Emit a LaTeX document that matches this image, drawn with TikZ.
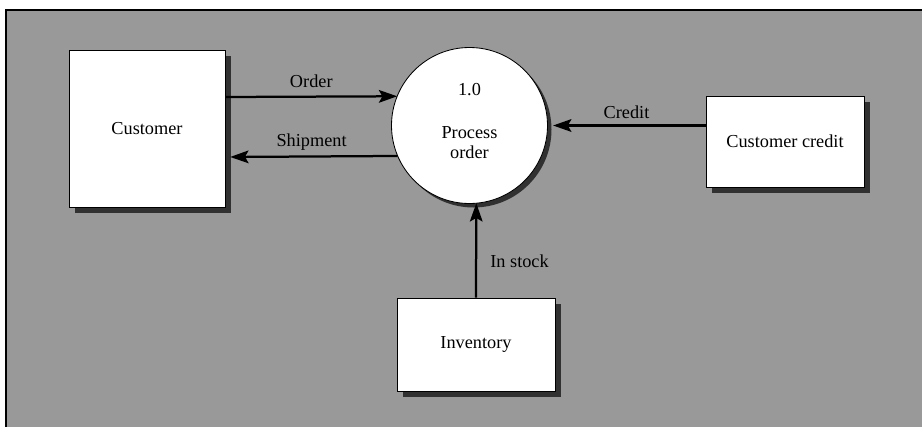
\documentclass[tikz,border=0pt]{standalone}
\usepackage{fontspec}
\setmainfont{Liberation Serif}
\usetikzlibrary{shapes,arrows.meta,positioning,calc,shadows}
\tikzstyle{entity} = [draw, fill=white, rectangle, line width=0.6pt, drop shadow={shadow xshift=0.14cm, shadow yshift=-0.14cm, fill=black!85, opacity=0.9}]
\tikzstyle{process} = [draw, fill=white, circle, line width=0.6pt, minimum size=3.9cm, inner sep=0pt, outer sep=0pt, align=center, text depth=6pt, drop shadow={shadow xshift=0.1cm, shadow yshift=-0.1cm, fill=black!85, opacity=0.9}]
\tikzstyle{flow} = [->, line width=1.6pt]

\begin{document}
\begin{tikzpicture}[auto, node distance=2cm, >={Stealth[length=13pt,width=9pt,inset=2.5pt]}, font=\fontsize{13}{14.5}\selectfont]
    \useasboundingbox (0,0) rectangle (23.05,-10.675);
    % Background
    \fill [black!40] (0.15,-0.25) rectangle (23.05,-10.675);
    \draw [line width=0.9pt] (0.15,-10.675) -- (0.15,-0.25) -- (23.05,-0.25);

    % Nodes
    \node [process] (proc) at (11.7375,-3.1375) {1.0\\[16pt]Process\\order};
    \node [entity, left of=proc, node distance=8.0625cm, yshift=-0.075cm, minimum width=3.9cm, minimum height=3.925cm] (customer) {Customer};
    \node [entity, right of=proc, node distance=7.8875cm, yshift=-0.4cm, minimum width=3.95cm, minimum height=2.275cm] (credit) {Customer credit};
    \node [entity, below of=proc, node distance=5.475cm, xshift=0.1625cm, minimum width=3.95cm, minimum height=2.325cm] (inv) {Inventory};

    % Connections
    \draw [flow] ([yshift=0.7875cm]customer.east) -- node [yshift=2pt] {Order} (proc.158.6);
    \draw [flow, shorten >=0.12cm] (proc.203.8) -- node [swap] {Shipment} ([yshift=-0.7125cm]customer.east);
    \draw [flow, shorten >=0.14cm] ([yshift=0.4cm]credit.west) -- node [swap, yshift=1pt] {Credit} (proc.east);
    \draw [flow] (inv.north) -- node [swap, pos=0.38, xshift=6pt] {In stock} (proc.-85.2);
\end{tikzpicture}
\end{document}
